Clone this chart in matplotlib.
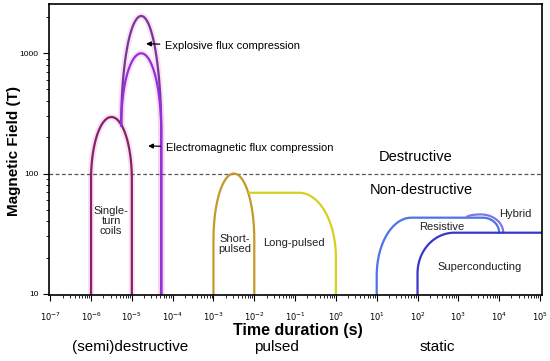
import numpy as np
import matplotlib.pyplot as plt
from matplotlib.ticker import FixedLocator, NullFormatter

plt.rcParams['font.family'] = ['Liberation Sans', 'DejaVu Sans']

# curves in log10 space: x0, rise end, fall start, x1, y start, top, y end
single_turn = [-6.0, -5.5, -5.5, -5.0, 1.95, 2.47, 1.95]
explosive = [-5.26, -4.77, -4.77, -4.28, 2.40, 3.31, 2.35]
electromag = [-5.26, -4.77, -4.77, -4.28, 2.40, 3.00, 2.35]
short_pulsed = [-3.0, -2.5, -2.5, -2.0, 1.45, 2.00, 1.45]
long_pulsed = [-2.12, -2.12, -0.9, 0.0, 1.84, 1.84, 1.30]
resistive = [1.0, 1.85, 3.6, 4.0, 1.15, 1.633, 1.508]
hybrid = [3.2, 3.55, 3.55, 4.1, 1.633, 1.66, 1.508]
supercond = [2.0, 2.9, 5.05, 5.05, 1.17, 1.508, 1.508]

x_decades = list(range(-7, 6))
y_ticks = [10, 100, 1000]

y_bottom = 0.99


def hump(x0, xa, xb, x1, y0, top, y1, drop_left=False, drop_right=False):
    t = np.linspace(0, np.pi / 2, 60)
    xs = list(xa - (xa - x0) * np.cos(t)) + list(xb + (x1 - xb) * np.sin(t))
    ys = list(y0 + (top - y0) * np.sin(t)) + list(y1 + (top - y1) * np.cos(t))
    if drop_left:
        xs = [x0] + xs
        ys = [y_bottom] + ys
    if drop_right:
        xs = xs + [x1]
        ys = ys + [y_bottom]
    return 10 ** np.array(xs), 10 ** np.array(ys)


fig = plt.figure(figsize=(5.5, 3.61), dpi=100)
ax = fig.add_axes([49 / 550, 1 - 295 / 361, 493 / 550, 291 / 361])
ax.set_xscale('log')
ax.set_yscale('log')
ax.set_xlim(10 ** -7.03, 10 ** 5.05)
ax.set_ylim(10 ** y_bottom, 10 ** 3.41)

curves = [
    (single_turn, '#862266', True, True, True),
    (explosive, '#74389a', False, True, True),
    (electromag, '#9030e0', False, True, True),
    (short_pulsed, '#c29a2a', True, True, False),
    (long_pulsed, '#d6d021', False, True, False),
    (resistive, '#5072e8', True, False, False),
    (hybrid, '#7a78e6', False, False, False),
    (supercond, '#3a36c8', True, False, False),
]
for c, col, dl, dr, glow in curves:
    x, y = hump(*c, drop_left=dl, drop_right=dr)
    if glow:
        ax.plot(x, y, color='#f7c6ea', lw=4.5, alpha=0.5, solid_capstyle='butt', zorder=1)
    ax.plot(x, y, color=col, lw=1.6, zorder=2)

ax.axhline(100, color='#555555', lw=0.9, ls=(0, (3, 2)), zorder=1)

ax.set_xticks([10.0 ** k for k in x_decades])
ax.set_xticklabels([r'$10^{%d}$' % k for k in x_decades])
minor_x = [m * 10.0 ** k for k in x_decades[:-1] for m in range(2, 10)]
ax.xaxis.set_minor_locator(FixedLocator(minor_x))
ax.xaxis.set_minor_formatter(NullFormatter())
ax.set_yticks(y_ticks)
ax.set_yticklabels([str(v) for v in y_ticks])
ax.yaxis.set_minor_formatter(NullFormatter())
ax.tick_params(which='major', length=4, width=0.8, labelsize=6)
ax.tick_params(axis='x', which='major', pad=7)
ax.tick_params(which='minor', length=2, width=0.6)
for s in ax.spines.values():
    s.set_linewidth(1.2)

fig.text(14 / 550, 1 - 151 / 361, 'Magnetic Field (T)', fontsize=11, fontweight='bold',
         rotation=90, ha='center', va='center')
fig.text(298 / 550, 1 - 330 / 361, 'Time duration (s)', fontsize=11.5,
         fontweight='bold', ha='center', va='center')

# labels
lab = dict(fontsize=8, ha='center', va='center', color='#222222')
ax.text(10 ** -5.51, 10 ** 1.607, 'Single-\nturn\ncoils', linespacing=1.0, **lab)
ax.text(10 ** -2.49, 10 ** 1.41, 'Short-\npulsed', linespacing=1.0, **lab)
ax.text(10 ** -1.02, 10 ** 1.42, 'Long-pulsed', **lab)
ax.text(10 ** 2.60, 10 ** 1.557, 'Resistive', **lab)
ax.text(10 ** 4.39, 10 ** 1.665, 'Hybrid', **lab)
ax.text(10 ** 3.53, 10 ** 1.224, 'Superconducting', **lab)
ax.text(10 ** 1.96, 10 ** 2.14, 'Destructive', fontsize=10.5, ha='center', va='center')
ax.text(10 ** 2.09, 10 ** 1.865, 'Non-destructive', fontsize=10.5, ha='center', va='center')

ax.annotate('Explosive flux compression', xy=(10 ** -4.72, 10 ** 3.08),
            xytext=(10 ** -4.18, 10 ** 3.06), fontsize=8, va='center',
            arrowprops=dict(arrowstyle='-|>', color='black', lw=0.9, mutation_scale=7))
ax.annotate('Electromagnetic flux compression', xy=(10 ** -4.67, 10 ** 2.23),
            xytext=(10 ** -4.16, 10 ** 2.21), fontsize=8, va='center',
            arrowprops=dict(arrowstyle='-|>', color='black', lw=0.9, mutation_scale=7))

fig.text(130 / 550, 1 - 347 / 361, '(semi)destructive', fontsize=11, ha='center', va='center')
fig.text(276 / 550, 1 - 347 / 361, 'pulsed', fontsize=11, ha='center', va='center')
fig.text(437 / 550, 1 - 347 / 361, 'static', fontsize=11, ha='center', va='center')

fig.savefig('out.png', dpi=100)
